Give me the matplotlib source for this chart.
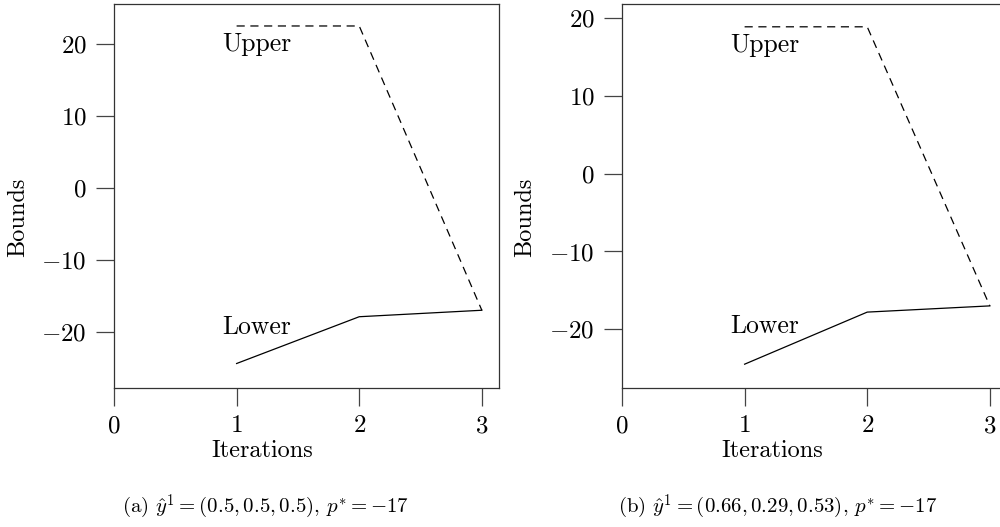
import numpy as np
import matplotlib
matplotlib.use("Agg")
import matplotlib.pyplot as plt

plt.rcParams['font.family'] = 'serif'
plt.rcParams['font.serif'] = ['cmr10', 'DejaVu Serif']
plt.rcParams['mathtext.fontset'] = 'cm'
plt.rcParams['axes.formatter.use_mathtext'] = True
plt.rcParams['axes.unicode_minus'] = True

# Data
iterations = [1, 2, 3]
upper_a = [22.5, 22.5, -17.0]
lower_a = [-24.4, -17.9, -17.0]
upper_b = [18.9, 18.9, -17.0]
lower_b = [-24.5, -17.8, -17.0]
xticks = [0, 1, 2, 3]
yticks = [-20, -10, 0, 10, 20]
captions = [r"(a) $\hat{y}^1 = (0.5, 0.5, 0.5)$, $p^{*} = -17$",
            r"(b) $\hat{y}^1 = (0.66, 0.29, 0.53)$, $p^{*} = -17$"]


def bounds_panel(ax, upper, lower, ylim, upper_txt_y, lower_txt_y):
    ax.plot(iterations, upper, color='black', lw=0.9, ls=(0, (6.5, 4.5)))
    ax.plot(iterations, lower, color='black', lw=0.9)
    ax.text(1.165, upper_txt_y, "Upper", ha='center', va='center', fontsize=18.5)
    ax.text(1.165, lower_txt_y, "Lower", ha='center', va='center', fontsize=18.5)
    ax.set_xlim(0, 3.14)
    ax.set_ylim(*ylim)
    ax.set_xticks(xticks)
    ax.set_yticks(yticks)
    ax.tick_params(direction='out', length=13, width=0.9, pad=6.5,
                   labelsize=18, color='#444444')
    for s in ax.spines.values():
        s.set_linewidth(0.9)
        s.set_color('#333333')


fig = plt.figure(figsize=(10, 5.27), dpi=100)
ax1 = fig.add_axes([0.114, 0.2638, 0.385, 0.7287])
ax2 = fig.add_axes([0.622, 0.2638, 0.385, 0.7287])

bounds_panel(ax1, upper_a, lower_a, (-27.8, 25.56), 20.0, -19.3)
bounds_panel(ax2, upper_b, lower_b, (-27.56, 21.84), 16.6, -19.6)

# axis labels and captions
fig.text(0.018, 1 - 217 / 527, "Bounds", rotation=90, ha='center', va='center', fontsize=17.5)
fig.text(0.525, 1 - 217 / 527, "Bounds", rotation=90, ha='center', va='center', fontsize=17.5)
fig.text(0.262, 1 - 451 / 527, "Iterations", ha='center', va='center', fontsize=17.5)
fig.text(0.772, 1 - 451 / 527, "Iterations", ha='center', va='center', fontsize=17.5)
fig.text(0.265, 1 - 507 / 527, captions[0], ha='center', va='center', fontsize=15)
fig.text(0.778, 1 - 507 / 527, captions[1], ha='center', va='center', fontsize=15)

fig.savefig("out.png", dpi=100)
